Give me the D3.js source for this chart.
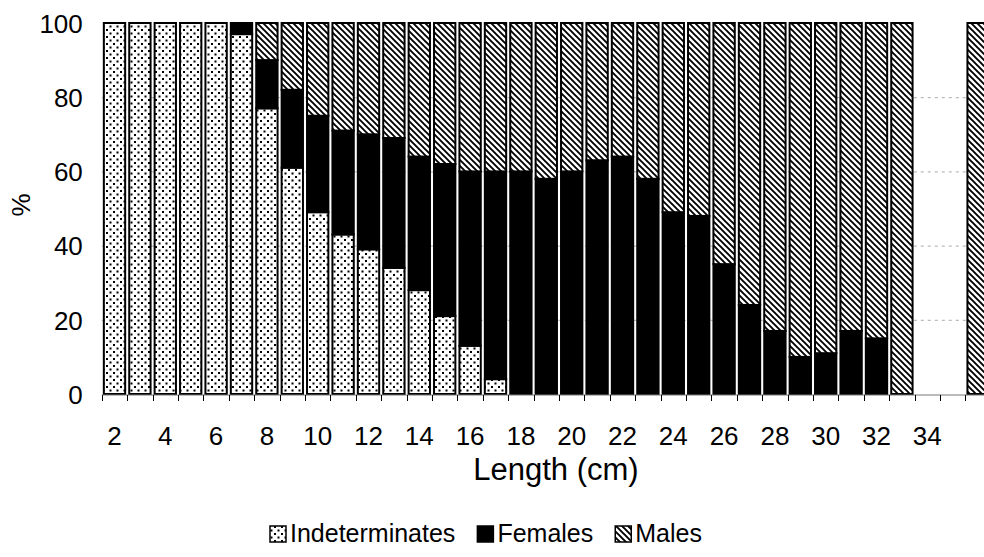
<!DOCTYPE html>
<html>
<head>
<meta charset="utf-8">
<script src="https://cdn.jsdelivr.net/npm/d3@7"></script>
<style>
body { margin: 0; background: #fff; }
svg text { font-family: "Liberation Sans", Arial, sans-serif; fill: #000; }
</style>
</head>
<body>
<svg width="984" height="557"></svg>
<script>
// length classes (cm); 34 and 35 have no fish
var lengths = [2, 3, 4, 5, 6, 7, 8, 9, 10, 11, 12, 13, 14, 15, 16, 17, 18, 19,
  20, 21, 22, 23, 24, 25, 26, 27, 28, 29, 30, 31, 32, 33, 34, 35, 36];
var indeterminates = [100, 100, 100, 100, 100, 97, 77, 61, 49, 43, 39, 34, 28, 21, 13, 4, 0, 0,
  0, 0, 0, 0, 0, 0, 0, 0, 0, 0, 0, 0, 0, 0, 0, 0, 0];
var females = [0, 0, 0, 0, 0, 3, 13, 21, 26, 28, 31, 35, 36, 41, 47, 56, 60, 58,
  60, 63, 64, 58, 49, 48, 35, 24, 17, 10, 11, 17, 15, 0, 0, 0, 0];
var males = [0, 0, 0, 0, 0, 0, 10, 18, 25, 29, 30, 31, 36, 38, 40, 40, 40, 42,
  40, 37, 36, 42, 51, 52, 65, 76, 83, 90, 89, 83, 85, 100, 0, 0, 100];
var seriesNames = ["Indeterminates", "Females", "Males"];
var xTickLabels = [2, 4, 6, 8, 10, 12, 14, 16, 18, 20, 22, 24, 26, 28, 30, 32, 34];
var yTicks = [0, 20, 40, 60, 80, 100];

var svg = d3.select("svg");
var step = 25.4;

var x = d3.scaleBand()
  .domain(lengths)
  .range([101.8, 101.8 + step * lengths.length])
  .paddingInner(0.16)
  .paddingOuter(0.08);
var y = d3.scaleLinear().domain([0, 100]).range([394, 23]);

// fill patterns like the old b/w print
var defs = svg.append("defs");
var dots = defs.append("pattern").attr("id", "dots")
  .attr("patternUnits", "userSpaceOnUse").attr("width", 7).attr("height", 7);
dots.append("rect").attr("width", 7).attr("height", 7).attr("fill", "#fff");
dots.append("rect").attr("x", 1).attr("y", 1).attr("width", 2).attr("height", 2).attr("fill", "#000");
dots.append("rect").attr("x", 4.5).attr("y", 4.5).attr("width", 2).attr("height", 2).attr("fill", "#000");

var hatch = defs.append("pattern").attr("id", "hatch")
  .attr("patternUnits", "userSpaceOnUse").attr("width", 6).attr("height", 6);
hatch.append("rect").attr("width", 6).attr("height", 6).attr("fill", "#fff");
hatch.append("path")
  .attr("d", "M-1,-1L7,7M-1,5L1,7M5,-1L7,1")
  .attr("stroke", "#000").attr("stroke-width", 1.9);

var fills = { "Indeterminates": "url(#dots)", "Females": "#000", "Males": "url(#hatch)" };

// gridlines
svg.append("g").selectAll("line")
  .data(yTicks.filter(function(d) { return d > 0 && d < 100; }))
  .enter().append("line")
  .attr("x1", 101.8).attr("x2", 984)
  .attr("y1", function(d) { return y(d) + 0.5; })
  .attr("y2", function(d) { return y(d) + 0.5; })
  .attr("stroke", "#aaa").attr("stroke-width", 1)
  .attr("stroke-dasharray", "3,4");

// stacked bars
var rows = lengths.map(function(l, i) {
  return { len: l, Indeterminates: indeterminates[i], Females: females[i], Males: males[i] };
});
var stacked = d3.stack().keys(seriesNames)(rows);

svg.append("g").selectAll("g")
  .data(stacked)
  .enter().append("g")
  .attr("fill", function(s) { return fills[s.key]; })
  .selectAll("rect")
  .data(function(s) { return s.filter(function(d) { return d[1] - d[0] > 0; }); })
  .enter().append("rect")
  .attr("x", function(d) { return x(d.data.len); })
  .attr("y", function(d) { return y(d[1]); })
  .attr("width", x.bandwidth())
  .attr("height", function(d) { return y(d[0]) - y(d[1]); })
  .attr("stroke", "#000")
  .attr("stroke-width", 2);

// category axis: baseline + ticks between classes
svg.append("line")
  .attr("x1", 101.8).attr("x2", 984)
  .attr("y1", 395).attr("y2", 395)
  .attr("stroke", "#777").attr("stroke-width", 1);
svg.append("g").selectAll("line")
  .data(lengths)
  .enter().append("line")
  .attr("x1", function(d) { return Math.round(x(d) - step * 0.08) + 0.5; })
  .attr("x2", function(d) { return Math.round(x(d) - step * 0.08) + 0.5; })
  .attr("y1", 395).attr("y2", 401)
  .attr("stroke", "#000").attr("stroke-width", 1);

var xAxis = svg.append("g")
  .attr("transform", "translate(0,395)")
  .call(d3.axisBottom(x).tickValues(xTickLabels).tickSize(0).tickPadding(32));
xAxis.select(".domain").remove();
xAxis.selectAll("text").attr("font-size", 26).attr("font-family", null);

var yAxis = svg.append("g")
  .attr("transform", "translate(101.8,0)")
  .call(d3.axisLeft(y).tickValues(yTicks).tickSize(0).tickPadding(19));
yAxis.select(".domain").remove();
yAxis.selectAll("text").attr("font-size", 26).attr("font-family", null).attr("dy", "0.36em");

svg.append("text")
  .attr("x", 556).attr("y", 480)
  .attr("text-anchor", "middle")
  .attr("font-size", 31)
  .text("Length (cm)");

svg.append("text")
  .attr("transform", "translate(30,205) rotate(-90)")
  .attr("text-anchor", "middle")
  .attr("font-size", 26)
  .text("%");

// legend
var legend = svg.append("g");
var lx = 270;
seriesNames.forEach(function(name) {
  legend.append("rect")
    .attr("x", lx).attr("y", 526)
    .attr("width", 16).attr("height", 16)
    .attr("fill", fills[name])
    .attr("stroke", "#000").attr("stroke-width", 1.5);
  var t = legend.append("text")
    .attr("x", lx + 20).attr("y", 542)
    .attr("font-size", 25)
    .text(name);
  lx += 20 + t.node().getComputedTextLength() + 22;
});
</script>
</body>
</html>
